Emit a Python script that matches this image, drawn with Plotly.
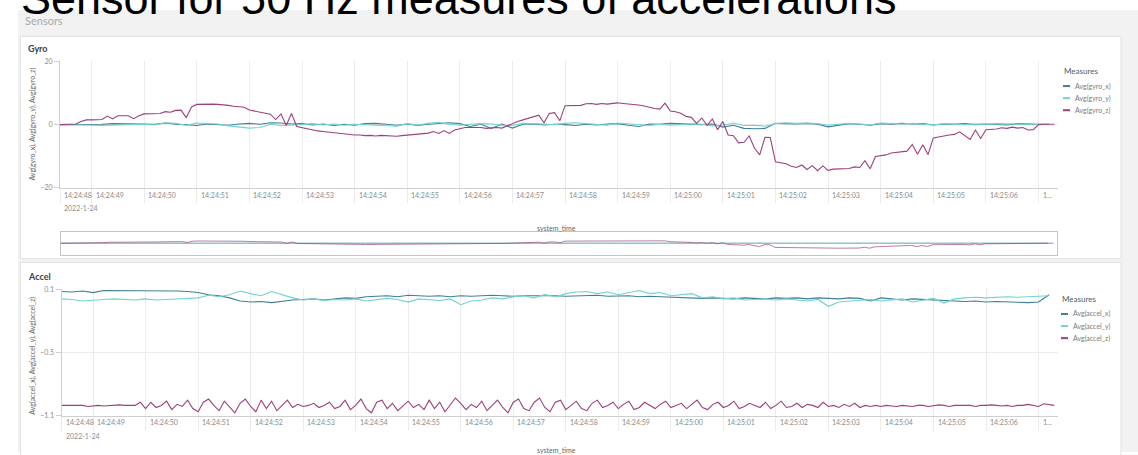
import pandas as pd
import plotly.graph_objects as go

W, H = 1138, 455

# ---------------------------------------------------------------- data
START = pd.Timestamp("2022-01-24 14:24:48.400")
END = pd.Timestamp("2022-01-24 14:25:07.370")
FAST_STEP_MS = 100   # z channels
SLOW_STEP_MS = 200   # x / y channels

gyro_x = [0, 0, 0, 0.1, 0.1, 0.3, 0.2, 0.1, 0.2, 0.1,
          0.5, 0.1, 0.0, -0.3, 0.2, 0.1, -0.2, 0.2, 0.4, 0.1,
          0.6, 0.5, 0.2, 0.3, -0.1, 0.2, -0.3, 0.1, -0.2, 0.3,
          0.4, 0.1, -0.2, 0.2, -0.3, 0.1, 0.4, 0.6, 0.3, -0.6,
          0.1, -1.2, 0.2, -1.1, 0.1, 0.2, -0.1, 0.1, 0.0, -0.3,
          0.1, -0.1, 0.2, 0.3, -0.2, -0.6, 0.2, 0.1, 0.4, 0.2,
          0.1, 0.0, 0.2, -0.8, -0.2, -1.2, -1.3, -1.2, 0.4, 0.3,
          0.2, 0.4, 0.1, -0.7, -0.1, 0.3, 0.1, -0.2, 0.3, 0.1,
          0.4, 0.2, 0.3, -0.1, 0.2, 0.1, 0.3, 0.0, 0.2, 0.1,
          -0.1, 0.3, 0.1, 0.1, 0.1]

gyro_y = [0, 0, -0.1, -0.2, -0.3, -0.2, -0.3, -0.2, 0.1, -0.1,
          0.6, 0.4, -0.2, 0.5, 0.3, 0.2, -0.4, -0.7, -1.1, -0.9,
          0.1, -0.3, -0.2, 0.0, 0.3, -0.1, 0.2, -0.2, 0.1, 0.0,
          -0.3, -0.2, -0.5, 0.3, -0.1, 0.4, 0.7, 0.1, -0.2, 0.1,
          0.3, 0.2, -0.2, -0.3, 0.4, 0.3, 0.1, 0.0, 0.4, 0.6,
          0.3, 0.1, -0.2, 0.5, 0.3, -0.1, -0.3, 0.1, -0.2, 0.0,
          0.2, 0.1, -0.4, -0.2, 0.5, -0.3, -0.2, -0.5, 0.3, 0.6,
          0.4, 0.5, 0.3, -0.2, 0.1, 0.4, 0.2, -0.1, 0.5, 0.3,
          0.2, 0.4, 0.1, -0.1, 0.3, 0.2, 0.0, 0.2, 0.1, 0.3,
          0.2, 0.1, 0.2, 0.0, 0.0]

gyro_z = [0, 0, 0, 0.2, 1.0, 1.5, 1.5, 1.6, 1.6, 2.7,
          1.8, 2.8, 2.9, 2.8, 1.9, 2.8, 3.4, 3.5, 3.6, 3.5,
          4.1, 3.9, 4.5, 4.6, 2.2, 5.6, 6.4, 6.5, 6.6, 6.5,
          6.4, 6.3, 6.1, 5.8, 5.6, 5.5, 4.6, 4.3, 3.9, 3.7,
          3.3, 1.6, 3.4, -0.3, 3.5, -0.6, -1.0, -1.3, -1.6, -2.0,
          -2.2, -2.4, -2.7, -2.9, -3.0, -3.1, -3.3, -3.3, -3.5, -3.4,
          -3.6, -3.4, -3.5, -3.6, -3.7, -3.5, -3.3, -3.2, -3.0, -2.9,
          -2.7, -2.2, -2.8, -1.9, -2.8, -1.7, -1.2, -0.9, -0.9, -0.8,
          -0.9, -1.2, -1.0, -0.9, -1.1, -0.4, 0.4, 1.0, 1.5, 2.0,
          2.5, 3.0, 0.6, 3.5, 3.8, 1.2, 6.0, 6.0, 6.0, 6.1,
          6.6, 6.7, 6.4, 6.7, 6.5, 6.6, 6.9, 6.7, 6.6, 6.4,
          6.2, 5.9, 5.4, 5.1, 4.9, 6.8, 4.3, 4.1, 3.6, 2.6,
          2.3, 0.4, 2.1, -0.2, 1.8, -1.6, 1.0, -3.3, -3.5, -5.8,
          -5.6, -3.6, -7.4, -9.6, -4.0, -4.1, -11.8, -12.1, -12.4, -13.2,
          -13.6, -12.8, -14.2, -13.0, -14.6, -13.1, -14.5, -14.1, -14.0, -14.0,
          -13.9, -13.4, -13.6, -11.4, -14.0, -10.1, -9.8, -9.6, -9.0, -8.8,
          -8.6, -8.4, -6.3, -9.4, -6.4, -9.5, -4.2, -4.0, -3.6, -3.3,
          -3.1, -2.3, -3.5, -4.7, -1.7, -4.4, -1.6, -1.5, -1.4, -1.0,
          -1.2, -0.8, -1.1, -0.9, -1.7, -1.6, 0.0, 0.1, 0.0, 0.1]

accel_x = [0.08, 0.075, 0.085, 0.07, 0.09, 0.09, 0.09, 0.088, 0.09, 0.088,
           0.088, 0.085, 0.08, 0.07, 0.05, 0.04, 0.02, -0.01, -0.02, -0.015,
           -0.025, -0.01, 0.0, 0.005, 0.01, 0.0, 0.01, 0.02, 0.015, 0.03,
           0.035, 0.04, 0.03, 0.045, 0.04, 0.035, 0.04, 0.03, 0.04, 0.035,
           0.04, 0.045, 0.04, 0.035, 0.04, 0.04, 0.045, 0.04, 0.035, 0.04,
           0.04, 0.045, 0.035, 0.04, 0.04, 0.03, 0.035, 0.03, 0.025, 0.02,
           0.02, 0.015, 0.02, 0.015, 0.01, 0.02, 0.015, 0.01, 0.02, 0.015,
           0.02, 0.01, 0.02, 0.015, 0.01, 0.02, 0.015, -0.01, 0.02, 0.01,
           0.0, 0.01, 0.005, 0.0, -0.005, -0.01, -0.015, -0.01, -0.02, -0.015,
           -0.02, -0.02, -0.025, -0.02, 0.05]

accel_y = [0.01, 0.005, -0.01, 0.0, 0.005, 0.01, 0.005, 0.0, 0.01, 0.0,
           0.005, 0.01, 0.015, 0.02, 0.045, 0.03, 0.05, 0.085, 0.06, 0.04,
           0.08, 0.05, 0.02, 0.0, 0.01, -0.005, 0.005, 0.0, 0.01, -0.01,
           0.0, 0.015, 0.005, -0.02, 0.01, 0.0, -0.005, 0.01, -0.045, -0.01,
           0.0, 0.02, 0.01, 0.03, 0.04, 0.02, 0.05, 0.03, 0.06, 0.075,
           0.08, 0.06, 0.075, 0.05, 0.07, 0.09, 0.06, 0.07, 0.04, 0.05,
           0.06, 0.02, 0.03, 0.01, 0.02, 0.0, 0.005, 0.01, 0.0, 0.01,
           0.0, -0.01, 0.005, -0.06, -0.02, -0.01, 0.0, 0.005, -0.01, 0.0,
           0.01, -0.02, 0.0, 0.015, -0.03, 0.01, 0.02, 0.025, 0.02, 0.025,
           0.03, 0.025, 0.03, 0.035, 0.04]

accel_z = [-1.0, -1.0, -1.0, -1.005, -1.0, -1.01, -1.005, -1.0, -1.005, -1.0,
           -1.0, -0.995, -1.0, -1.0, -1.0, -0.97, -1.03, -0.97, -1.02, -1.0,
           -0.96, -1.04, -0.99, -1.01, -0.95, -1.03, -1.06, -0.97, -0.94, -1.0,
           -1.05, -0.96, -1.02, -1.07, -0.98, -0.94, -1.01, -1.06, -0.95, -1.03,
           -0.96, -1.05, -1.0, -0.95, -1.02, -0.99, -1.01, -1.0, -0.98, -1.02,
           -1.0, -0.97, -1.03, -1.01, -0.95, -1.04, -1.0, -0.94, -1.03, -1.07,
           -0.97, -0.95, -1.03, -0.98, -1.05, -1.0, -0.96, -1.02, -0.99, -1.04,
           -0.95, -1.03, -0.97, -1.06, -1.0, -0.93, -0.98, -1.04, -0.99, -1.02,
           -0.96, -1.05, -1.0, -0.95, -1.02, -1.07, -0.97, -0.94, -1.03, -1.05,
           -0.97, -0.93, -1.02, -1.06, -0.97, -0.95, -1.04, -1.0, -0.96, -1.03,
           -1.05, -0.98, -0.95, -1.02, -1.0, -0.97, -1.03, -0.99, -0.96, -1.04,
           -1.02, -0.97, -1.0, -1.03, -0.99, -0.96, -1.02, -1.0, -0.98, -1.03,
           -0.99, -0.95, -1.02, -1.04, -0.99, -0.97, -1.02, -1.0, -0.96, -1.03,
           -1.01, -0.98, -1.0, -1.02, -0.97, -1.03, -1.0, -0.96, -1.02, -1.01,
           -0.98, -1.02, -0.99, -1.0, -1.02, -0.97, -1.01, -1.0, -1.02, -0.99,
           -1.01, -0.98, -1.02, -1.0, -1.01, -1.0, -1.01, -1.0, -1.005, -1.01,
           -1.0, -1.005, -1.01, -1.0, -1.0, -1.01, -1.0, -0.995, -1.0, -1.01,
           -1.0, -1.0, -1.005, -1.0, -1.01, -1.0, -1.0, -0.995, -1.0, -1.005,
           -1.0, -1.01, -1.0, -1.0, -0.99, -1.0, -1.01, -0.985, -0.99, -1.0]

GYRO_NAMES = ["Avg(gyro_x)", "Avg(gyro_y)", "Avg(gyro_z)"]
ACCEL_NAMES = ["Avg(accel_x)", "Avg(accel_y)", "Avg(accel_z)"]
SERIES_COLORS = ["#3f7f9a", "#6fd3d3", "#9d3f7d"]

TICK_LABELS = ["14:24:48", "14:24:49", "14:24:50", "14:24:51", "14:24:52",
               "14:24:53", "14:24:54", "14:24:55", "14:24:56", "14:24:57",
               "14:24:58", "14:24:59", "14:25:00", "14:25:01", "14:25:02",
               "14:25:03", "14:25:04", "14:25:05", "14:25:06", "1..."]
DATE_LABEL = "2022-1-24"
GYRO_TICKS = [20, 0, -20]
ACCEL_TICKS = [0.1, -0.5, -1.1]


def times(n, step_ms):
    return [START + pd.Timedelta(milliseconds=step_ms * k) for k in range(n)]


t_slow = times(len(gyro_x), SLOW_STEP_MS)
t_fast = times(len(gyro_z), FAST_STEP_MS)

# tick positions: the first label sits at the start of the axis, the rest on whole seconds
tick_times = [START] + [pd.Timestamp("2022-01-24 14:24:49") + pd.Timedelta(seconds=k)
                        for k in range(len(TICK_LABELS) - 1)]


# ---------------------------------------------------------------- helpers
def px(x):
    return x / W


def py(y):
    return 1 - y / H


FONT = "Lato, 'Open Sans', sans-serif"
GRID = "#ececec"
AXIS_LINE = "#cfcfcf"
LABEL = "#8c8c8c"

fig = go.Figure()

gyro_series = [gyro_x, gyro_y, gyro_z]
accel_series = [accel_x, accel_y, accel_z]
gyro_t = [t_slow, t_slow, t_fast]

for name, vals, t, col in zip(GYRO_NAMES, gyro_series, gyro_t, SERIES_COLORS):
    fig.add_trace(go.Scatter(x=t, y=vals, name=name, mode="lines",
                             line=dict(color=col, width=1.1),
                             xaxis="x", yaxis="y", showlegend=False))
# overview strip under the gyro chart
for name, vals, t, col in zip(GYRO_NAMES, gyro_series, gyro_t, SERIES_COLORS):
    fig.add_trace(go.Scatter(x=t, y=vals, name=name, mode="lines",
                             line=dict(color=col, width=0.8), opacity=0.85,
                             xaxis="x2", yaxis="y2", showlegend=False))
for name, vals, t, col in zip(ACCEL_NAMES, accel_series, gyro_t, SERIES_COLORS):
    fig.add_trace(go.Scatter(x=t, y=vals, name=name, mode="lines",
                             line=dict(color=col, width=1.1),
                             xaxis="x3", yaxis="y3", showlegend=False))

x_common = dict(type="date", range=[START, END], showgrid=True, gridcolor=GRID,
                gridwidth=1, tickvals=tick_times, showticklabels=False,
                ticks="outside", ticklen=14, tickcolor=GRID, showline=True,
                linecolor=AXIS_LINE, linewidth=1, zeroline=False)
y_common = dict(showgrid=True, gridcolor=GRID, zeroline=False, showline=True,
                linecolor=AXIS_LINE, linewidth=1, ticks="outside", ticklen=5,
                tickcolor=AXIS_LINE, tickfont=dict(family=FONT, size=7, color=LABEL))

gyro_top, gyro_bot = 57.5, 186
acc_top, acc_bot = 289.5, 418.3
plot_l, plot_r = 60, 1058

fig.update_layout(
    width=W, height=H, margin=dict(l=0, r=0, t=0, b=0),
    paper_bgcolor="white", plot_bgcolor="rgba(0,0,0,0)",
    xaxis=dict(x_common, domain=[px(plot_l), px(plot_r)], anchor="y"),
    yaxis=dict(y_common, domain=[py(gyro_bot), py(gyro_top)], anchor="x",
               range=[-20, 20], tickvals=GYRO_TICKS),
    xaxis2=dict(type="date", range=[START, END], domain=[px(plot_l + 1), px(plot_r - 1)],
                anchor="y2", showgrid=False, showticklabels=False, ticks="",
                showline=True, mirror=True, linecolor="#c4c4c4", zeroline=False),
    yaxis2=dict(domain=[py(254), py(231)], anchor="x2", range=[-32, 32],
                showgrid=False, showticklabels=False, ticks="", showline=True,
                mirror=True, linecolor="#c4c4c4", zeroline=False),
    xaxis3=dict(x_common, domain=[px(plot_l + 1.5), px(plot_r)], anchor="y3"),
    yaxis3=dict(y_common, domain=[py(acc_bot), py(acc_top)], anchor="x3",
                range=[-1.1, 0.1], tickvals=ACCEL_TICKS),
)

# ---------------------------------------------------------------- page frame
shapes = [
    dict(type="rect", xref="paper", yref="paper", x0=px(18), x1=1, y0=0, y1=py(5),
         fillcolor="#f2f2f2", line_width=0, layer="below"),
    dict(type="rect", xref="paper", yref="paper", x0=px(20.5), x1=px(1121), y0=py(258),
         y1=py(32), fillcolor="white", line=dict(color="#e2e2e2", width=1), layer="below"),
    dict(type="rect", xref="paper", yref="paper", x0=px(20.5), x1=px(1121), y0=py(470),
         y1=py(262), fillcolor="white", line=dict(color="#e2e2e2", width=1), layer="below"),
]

annotations = [
    dict(text="Sensors", xref="paper", yref="paper", x=px(23), y=py(15.5),
         xanchor="left", yanchor="middle", showarrow=False,
         font=dict(family=FONT, size=11, color="#a9a9a9")),
    dict(text="Sensor for 50 Hz measures of accelerations", xref="paper", yref="paper",
         x=px(19), y=py(-7), xanchor="left", yanchor="middle", showarrow=False,
         font=dict(family="Liberation Sans, Arial, sans-serif", size=45, color="black")),
    dict(text="<b>Gyro</b>", xref="paper", yref="paper", x=px(26), y=py(44),
         xanchor="left", yanchor="middle", showarrow=False,
         font=dict(family=FONT, size=9, color="#404040")),
    dict(text="<b>Accel</b>", xref="paper", yref="paper", x=px(26), y=py(276),
         xanchor="left", yanchor="middle", showarrow=False,
         font=dict(family=FONT, size=9, color="#404040")),
    dict(text=", ".join(GYRO_NAMES), xref="paper", yref="paper", x=px(33),
         y=py((gyro_top + gyro_bot) / 2), textangle=-90, showarrow=False,
         xanchor="center", yanchor="middle",
         font=dict(family=FONT, size=7, color="#666666")),
    dict(text=", ".join(ACCEL_NAMES), xref="paper", yref="paper", x=px(33),
         y=py(357), textangle=-90, showarrow=False, xanchor="center", yanchor="middle",
         font=dict(family=FONT, size=7, color="#666666")),
    dict(text="system_time", xref="paper", yref="paper", x=px(556), y=py(227),
         showarrow=False, xanchor="center", yanchor="middle",
         font=dict(family=FONT, size=7, color="#666666")),
    dict(text="system_time", xref="paper", yref="paper", x=px(556), y=py(453),
         showarrow=False, xanchor="center", yanchor="middle",
         font=dict(family=FONT, size=7, color="#666666")),
]

# time labels sit just right of their grid lines, date under the first one
for xa, ylab, ydate in (("x", 193, 207), ("x3", 424.3, 438.3)):
    for t, lab in zip(tick_times, TICK_LABELS):
        annotations.append(dict(text=lab, xref=xa, yref="paper", x=t, y=py(ylab),
                                xanchor="left", yanchor="middle", xshift=2,
                                showarrow=False,
                                font=dict(family=FONT, size=7, color=LABEL)))
    annotations.append(dict(text=DATE_LABEL, xref=xa, yref="paper", x=tick_times[0],
                            y=py(ydate), xanchor="left", yanchor="middle", xshift=2,
                            showarrow=False, font=dict(family=FONT, size=7, color=LABEL)))

# legends
for names, top, lx in ((GYRO_NAMES, 67, 1063), (ACCEL_NAMES, 299, 1061)):
    annotations.append(dict(text="Measures", xref="paper", yref="paper", x=px(lx - 1),
                            y=py(top), xanchor="left", yanchor="middle", showarrow=False,
                            font=dict(family=FONT, size=8, color="#595959")))
    for k, (name, col) in enumerate(zip(names, SERIES_COLORS)):
        yy = top + 15.5 + 12.3 * k
        shapes.append(dict(type="line", xref="paper", yref="paper", x0=px(lx),
                           x1=px(lx + 7), y0=py(yy), y1=py(yy),
                           line=dict(color=col, width=2)))
        annotations.append(dict(text=name, xref="paper", yref="paper", x=px(lx + 10),
                                y=py(yy), xanchor="left", yanchor="middle",
                                showarrow=False,
                                font=dict(family=FONT, size=7, color="#7a7a7a")))

fig.update_layout(shapes=shapes, annotations=annotations)

fig.write_html("out.html")
